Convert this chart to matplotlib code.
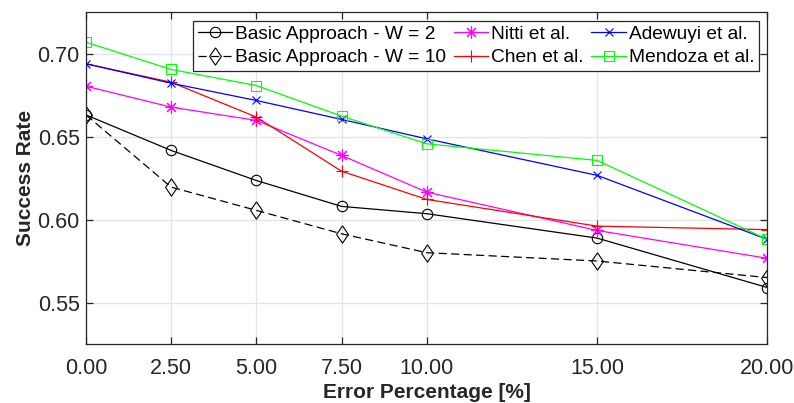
import matplotlib
matplotlib.use("Agg")
import matplotlib.pyplot as plt

error_pct = [0, 2.5, 5, 7.5, 10, 15, 20]
x_tick_labels = ["0.00", "2.50", "5.00", "7.50", "10.00", "15.00", "20.00"]
y_ticks = [0.55, 0.60, 0.65, 0.70]
y_tick_labels = ["0.55", "0.60", "0.65", "0.70"]

basic_w2 = [0.663, 0.6416, 0.6235, 0.6079, 0.6035, 0.5888, 0.5590]
basic_w10 = [0.663, 0.6195, 0.6055, 0.5914, 0.5800, 0.5750, 0.5650]
nitti = [0.6803, 0.6677, 0.6597, 0.6386, 0.6165, 0.5934, 0.5766]
chen = [0.6938, 0.6827, 0.6617, 0.6291, 0.6121, 0.5960, 0.5939]
adewuyi = [0.6938, 0.6821, 0.6717, 0.6603, 0.6486, 0.6266, 0.5880]
mendoza = [0.7068, 0.6904, 0.6807, 0.6623, 0.6456, 0.6356, 0.5880]

plt.rcParams['font.family'] = ['Liberation Sans', 'DejaVu Sans']

fig = plt.figure(figsize=(7.94, 4.03), dpi=100)
ax = fig.add_axes([0.1083, 0.1464, 0.9666 - 0.1083, 0.9702 - 0.1464])

diamond = [(0, 1), (0.68, 0), (0, -1), (-0.68, 0), (0, 1)]

lw = 0.9
mew = 0.8
ax.plot(error_pct, basic_w2, color='black', lw=lw, marker='o', ms=7.5, mfc='none', mew=mew,
        label='Basic Approach - W = 2')
ax.plot(error_pct, basic_w10, color='black', lw=lw, ls=(0, (6.5, 3.5)), marker=diamond, ms=12.5, mfc='none',
        mew=mew, label='Basic Approach - W = 10')
ax.plot(error_pct, nitti, color='#ff00ff', lw=lw, marker=(8, 2, 0), ms=9, mew=mew, label='Nitti et al.')
ax.plot(error_pct, chen, color='#ff0000', lw=lw, marker='+', ms=9, mew=mew, label='Chen et al.')
ax.plot(error_pct, adewuyi, color='#0000ff', lw=lw, marker='x', ms=6, mew=mew, label='Adewuyi et al.')
ax.plot(error_pct, mendoza, color='#00ff00', lw=lw, marker='s', ms=6.5, mfc='none', mew=mew,
        label='Mendoza et al.')

ax.set_xlim(0, 20)
ax.set_ylim(0.525, 0.725)
ax.set_xticks(error_pct)
ax.set_xticklabels(x_tick_labels)
ax.set_yticks(y_ticks)
ax.set_yticklabels(y_tick_labels)

ax.grid(True, color='#e3e3e3', lw=0.9)
ax.set_axisbelow(True)
for s in ax.spines.values():
    s.set_color('#262626')
    s.set_linewidth(0.9)
ax.tick_params(direction='in', length=5, width=0.9, colors='#262626', labelsize=15.5,
               top=True, right=True)
ax.tick_params(axis='x', pad=10)
ax.tick_params(axis='y', pad=4.5)

ax.set_xlabel('Error Percentage [%]', fontsize=15, fontweight='bold', color='#262626')
ax.set_ylabel('Success Rate', fontsize=15, fontweight='bold', color='#262626')
ax.xaxis.set_label_coords(0.5, -0.1446)
ax.xaxis.label.set_va('center')
ax.yaxis.set_label_coords(-0.0888, 0.5)
ax.yaxis.label.set_va('center')

leg = ax.legend(loc='upper right', ncol=3, fontsize=13.8, frameon=True, fancybox=False,
                edgecolor='#262626', framealpha=1, borderpad=0.25, labelspacing=0.32,
                handlelength=1.8, handletextpad=0.15, columnspacing=0.4, borderaxespad=0,
                bbox_to_anchor=(0.9875, 0.974))
leg.get_frame().set_linewidth(0.9)

fig.savefig('out.png', dpi=100)
